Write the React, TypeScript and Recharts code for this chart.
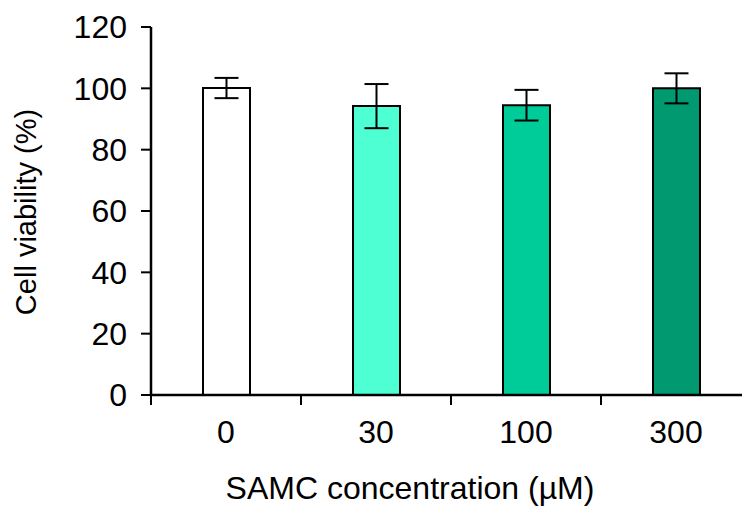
import { BarChart, Bar, XAxis, YAxis, Cell, ErrorBar } from "recharts";

const CATEGORIES = ["0", "30", "100", "300"];
const VIABILITY = [100.1, 94.2, 94.5, 100.0];
const ERRORS = [3.3, 7.2, 5.0, 4.9];
const Y_TICKS = [0, 20, 40, 60, 80, 100, 120];
const COLORS = ["#ffffff", "#4dffd2", "#00cc99", "#009970"];

const FONT = "'Liberation Sans', Arial, sans-serif";
const FS = 32;
const HALF_BAND = 75;

const data = CATEGORIES.map((c, i) => ({ conc: c, value: VIABILITY[i], err: ERRORS[i] }));

function XTick(props: any) {
  const { x, y, payload } = props;
  return (
    <g>
      <line x1={x - HALF_BAND} y1={y} x2={x - HALF_BAND} y2={y + 10} stroke="#000" strokeWidth={2}/>
      <text x={x} y={y + 48} textAnchor="middle" fontSize={FS} fontFamily={FONT} fill="#000">{payload.value}</text>
    </g>
  );
}

export default function App() {
  return (
    <div style={{ position:"absolute", left:0, top:0, width:742, height:510, overflow:"hidden", background:"#fff" }}>
      <BarChart width={760} height={510} data={data} margin={{ top:27, right:9, left:0, bottom:0 }} barCategoryGap={0}>
        <XAxis dataKey="conc" height={115} tickLine={false} tickSize={0} tickMargin={0} axisLine={{ stroke:"#000", strokeWidth:2.5 }} tick={<XTick/>} interval={0}/>
        <YAxis width={151} domain={[0,120]} ticks={Y_TICKS} tickSize={10} tickMargin={14}
          axisLine={{ stroke:"#000", strokeWidth:2.5 }} tickLine={{ stroke:"#000", strokeWidth:2 }}
          tick={{ fill:"#000", fontSize:FS, fontFamily:FONT }} interval={0}/>
        <Bar dataKey="value" barSize={47} stroke="#000" strokeWidth={2} isAnimationActive={false}>
          {data.map((_, i) => <Cell key={i} fill={COLORS[i]}/>)}
          <ErrorBar dataKey="err" width={12} stroke="#000" strokeWidth={2} isAnimationActive={false}/>
        </Bar>
        <text x={36} y={212} transform="rotate(-90, 36, 212)" textAnchor="middle" fontSize={29} fontFamily={FONT} fill="#000">Cell viability (%)</text>
        <text x={410} y={499} textAnchor="middle" fontSize={FS} fontFamily={FONT} fill="#000">SAMC concentration (µM)</text>
      </BarChart>
    </div>
  );
}
